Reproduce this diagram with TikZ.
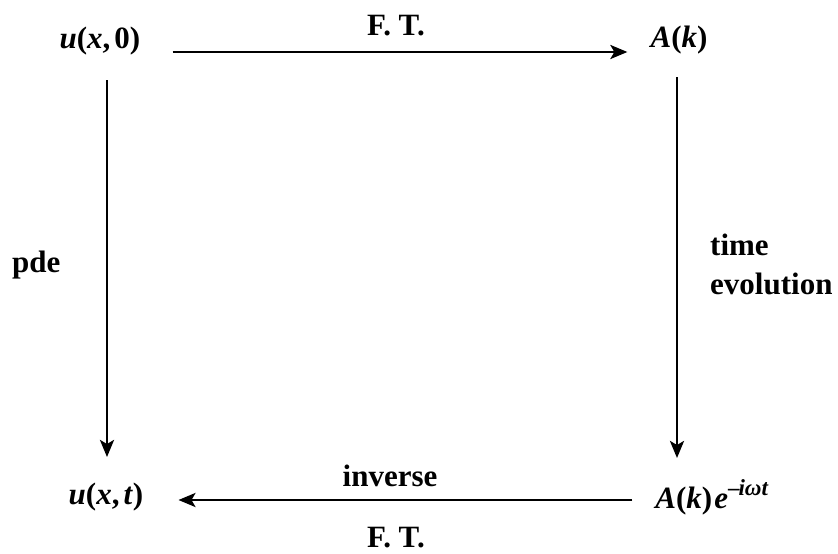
\documentclass[tikz,border=0pt]{standalone}
\usepackage{fontspec}
\setmainfont{Liberation Serif}
\usetikzlibrary{arrows.meta,calc}
\newcommand\mi[1]{\textit{#1}}
\tikzset{
  lbl/.style={font=\fontsize{31}{38}\selectfont\bfseries, inner sep=0pt, anchor=base},
  arr/.style={line width=2.8pt, -{Stealth[length=17pt,width=14pt,inset=4pt]}}
}
\begin{document}
\begin{tikzpicture}[x=1pt,y=-1pt]
\useasboundingbox (0,0) rectangle (838,554);
% corner nodes
\node[lbl] (u0) at (100,48) {\mi{u}(\mi{x},\kern4pt0)};
\node[lbl] (Ak) at (679,47) {\mi{A}(\mi{k})};
\node[lbl] (uxt) at (106,504) {\mi{u}(\mi{x},\kern4pt\mi{t})};
\node[lbl] (Akw) at (712,508) {\mi{A}(\mi{k})\kern2pt\mi{e}\raisebox{13pt}{\fontsize{23}{23}\selectfont –\kern-1pt\mi{iωt}}};
% labels
\node[lbl] (ft1) at (396,35) {F. T.};
\node[lbl] (inv) at (390,486) {inverse};
\node[lbl] (ft2) at (396,547) {F. T.};
\node[lbl, anchor=base west] (pde) at (12,272) {pde};
\node[lbl, anchor=base west] (time) at (710,255) {time};
\node[lbl, anchor=base west] (evo) at (710,294) {evolution};
% arrows
\draw[arr] ($(u0.base east)+(32,4)$) -- ($(Ak.base west)+(-23,5)$);
\draw[arr] ($(u0.base)+(7,32)$) -- ($(uxt.base)+(1,-47)$);
\draw[arr] ($(Ak.base)+(-2,30)$) -- ($(Akw.base)+(-35,-50)$);
\draw[arr] ($(Akw.base west)+(-23,-8)$) -- ($(uxt.base east)+(35,-4)$);
\end{tikzpicture}
\end{document}
